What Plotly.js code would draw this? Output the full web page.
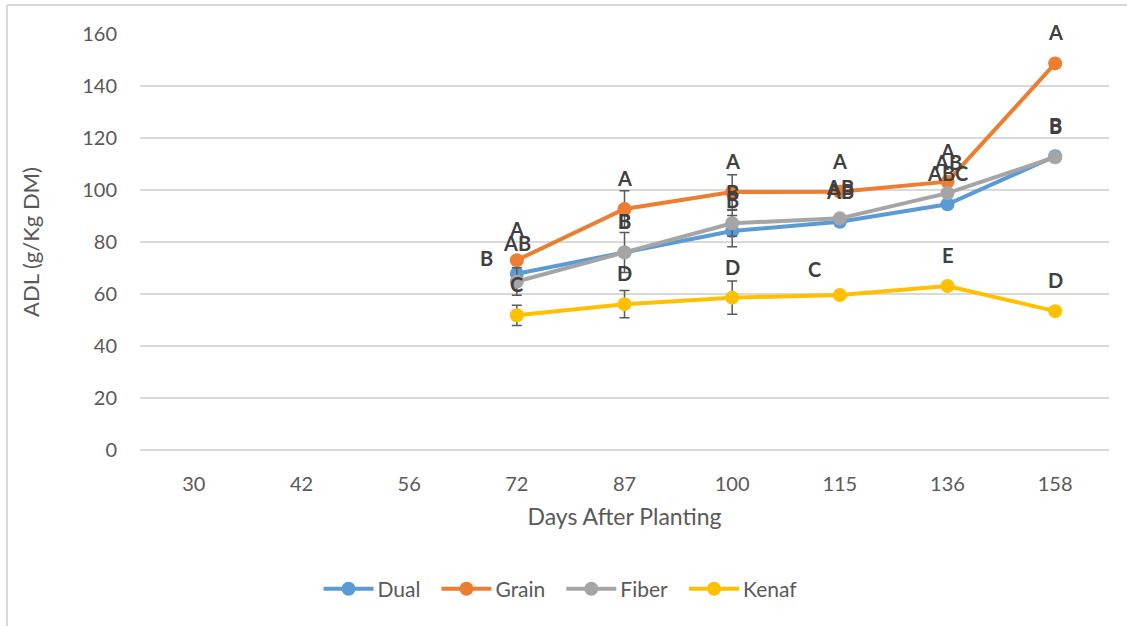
<!DOCTYPE html>
<html>
<head>
<meta charset="utf-8">
<script src="https://cdn.plot.ly/plotly-3.0.1.min.js"></script>
<style>
  html, body { margin: 0; padding: 0; background: #ffffff; }
  #chart { width: 1127px; height: 626px; }
</style>
</head>
<body>
<div id="chart"></div>
<script>
// Sampling days (category axis)
const days = ['30', '42', '56', '72', '87', '100', '115', '136', '158'];

// ADL (g/Kg DM) per sorghum type; no samples before day 72
const dual  = [null, null, null, 67.8, 76.0, 84.2, 87.8, 94.5, 113.0];
const grain = [null, null, null, 73.0, 92.7, 99.2, 99.3, 103.2, 148.7];
const fiber = [null, null, null, 64.8, 76.0, 87.2, 89.1, 98.8, 112.6];
const kenaf = [null, null, null, 51.8, 56.1, 58.6, 59.6, 63.1, 53.4];

// Standard errors (shown where available)
const dualErr  = [null, null, null, null, null, 6.0, null, null, null];
const grainErr = [null, null, null, null, 7.0, 6.7, null, null, null];
const fiberErr = [null, null, null, 5.3, 7.7, 5.0, null, null, null];
const kenafErr = [null, null, null, 3.9, 5.2, 6.4, null, null, null];

// Mean separation letters
const dualLetters  = [null, null, null, 'AB', 'B', 'B', 'AB', 'ABC', 'B'];
const grainLetters = [null, null, null, 'A', 'A', 'A', 'A', 'A', 'A'];
const fiberLetters = [null, null, null, 'B', 'B', 'B', 'AB', 'AB', 'B'];
const kenafLetters = [null, null, null, 'C', 'D', 'D', 'C', 'E', 'D'];

const seriesNames = ['Dual', 'Grain', 'Fiber', 'Kenaf'];
const seriesColors = ['#5B9BD5', '#ED7D31', '#A5A5A5', '#FFC000'];
const seriesValues = [dual, grain, fiber, kenaf];
const seriesErrors = [dualErr, grainErr, fiberErr, kenafErr];
const seriesLetters = [dualLetters, grainLetters, fiberLetters, kenafLetters];

const baseFont = 'Lato, "Open Sans", sans-serif';

const traces = seriesNames.map((name, s) => ({
  type: 'scatter',
  mode: 'lines+markers',
  name: name,
  x: days,
  y: seriesValues[s],
  line: { color: seriesColors[s], width: 4 },
  marker: { color: seriesColors[s], size: 14 },
  error_y: {
    type: 'data',
    array: seriesErrors[s],
    visible: true,
    color: '#595959',
    thickness: 1.5,
    width: 5
  },
  hoverinfo: 'x+y+name'
}));

// Letter placement: above each point, with a few labels moved aside
const labelNudge = { 'Fiber|72': { dx: -30, dy: 24 }, 'Kenaf|115': { dx: -25, dy: 26 } };

const annotations = [];
seriesNames.forEach((name, s) => {
  seriesLetters[s].forEach((txt, i) => {
    if (!txt) return;
    const nudge = labelNudge[name + '|' + days[i]] || { dx: 0, dy: 31 };
    annotations.push({
      x: i,                       // category index on the x axis
      y: seriesValues[s][i],
      xref: 'x', yref: 'y',
      text: '<b>' + txt + '</b>',
      showarrow: false,
      xshift: nudge.dx,
      yshift: nudge.dy,
      font: { family: baseFont, size: 20, color: '#404040' }
    });
  });
});

const layout = {
  width: 1127,
  height: 626,
  paper_bgcolor: '#ffffff',
  plot_bgcolor: '#ffffff',
  margin: { l: 140, r: 18, t: 34, b: 176 },
  showlegend: true,
  legend: {
    orientation: 'h',
    xref: 'container', yref: 'container',
    x: 0.4925, xanchor: 'center',
    y: 0.059, yanchor: 'middle',
    font: { family: baseFont, size: 21, color: '#595959' },
    itemwidth: 60,
    tracegroupgap: 0
  },
  xaxis: {
    type: 'category',
    categoryorder: 'array',
    categoryarray: days,
    range: [-0.5, 8.5],
    showgrid: false,
    showline: false,
    zeroline: false,
    ticks: '',
    ticklabelstandoff: 20,
    tickfont: { family: baseFont, size: 20, color: '#595959' },
    title: {
      text: 'Days After Planting',
      standoff: 14,
      font: { family: baseFont, size: 23, color: '#595959' }
    },
    fixedrange: true
  },
  yaxis: {
    range: [0, 160],
    dtick: 20,
    showgrid: true,
    gridcolor: '#D9D9D9',
    gridwidth: 1.5,
    zeroline: true,
    zerolinecolor: '#D9D9D9',
    zerolinewidth: 1.5,
    showline: false,
    ticks: '',
    ticklabelstandoff: 22,
    tickfont: { family: baseFont, size: 20, color: '#595959' },
    title: {
      text: 'ADL (g/Kg DM)',
      standoff: 36,
      font: { family: baseFont, size: 22, color: '#595959' }
    },
    fixedrange: true
  },
  annotations: annotations,
  shapes: [
    // chart-area frame (top and left edges visible)
    { type: 'line', xref: 'paper', yref: 'paper',
      x0: (7 - 140) / 969, x1: (7 - 140) / 969, y0: (626 - 5 - 176) / 416, y1: -1,
      line: { color: '#D9D9D9', width: 2 } },
    { type: 'line', xref: 'paper', yref: 'paper',
      x0: (7 - 140) / 969, x1: 1.2, y0: (626 - 5 - 176) / 416, y1: (626 - 5 - 176) / 416,
      line: { color: '#D9D9D9', width: 2 } }
  ]
};

Plotly.newPlot('chart', traces, layout, { displayModeBar: false, staticPlot: false }).then(gd => {
  // longer legend line samples, sitting just before each label
  gd.querySelectorAll('.legend .legendlines path').forEach(p => p.setAttribute('d', 'M16,0h50'));
  gd.querySelectorAll('.legend .legendpoints path').forEach(p => p.setAttribute('transform', 'translate(41,0)'));
});
</script>
</body>
</html>
